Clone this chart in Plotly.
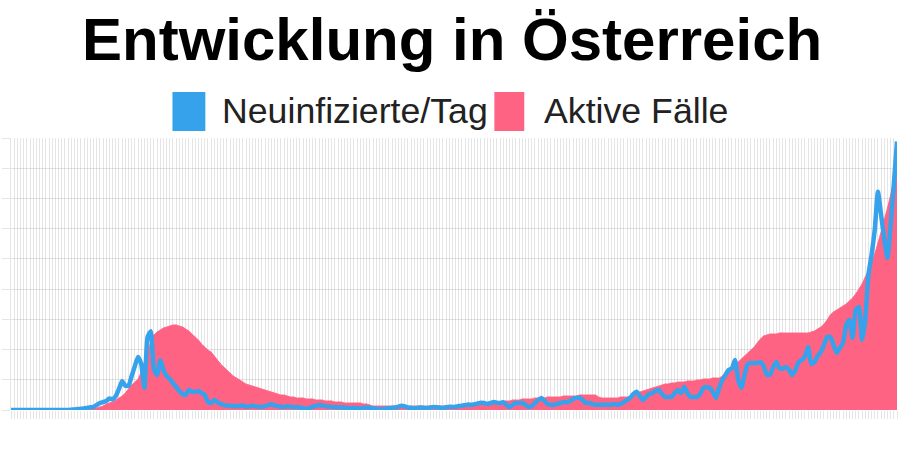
import plotly.graph_objects as go
import pandas as pd

# ---- data ----
dates = list(pd.date_range("2020-02-05", periods=280).strftime("%d.%m.%Y"))

neuinfizierte = [
    0, 0, 0, 0, 0, 0, 0, 0, 0, 0, 0, 0, 0, 0, 0, 0, 0, 0, 0,
    5, 10, 15, 20, 25, 35, 45, 50, 83, 115, 132, 150, 190, 175, 230, 350, 480, 400, 400, 560, 725,
    875, 760, 365, 1200, 1300, 675, 575, 820, 660, 560, 510, 445, 380, 315, 265, 250, 330, 300, 300, 315,
    280, 250, 130, 115, 165, 130, 100, 85,
    70, 75, 60, 70, 65, 75, 55, 60, 70, 60, 55, 50, 65, 80, 95, 75, 60, 55, 50, 60, 55, 45, 50, 40, 30, 15,
    35, 55, 70, 80, 75, 60, 55, 50, 45, 40, 45, 40, 35, 30, 35, 30, 25, 30, 40, 35, 30, 20, 10, 15, 25, 30,
    35, 40, 55, 70, 60, 40, 35, 30, 35, 40, 35, 30, 40, 50, 45, 40, 35, 45, 55, 50, 55, 65, 70, 80, 90, 85,
    95, 110, 120, 115, 100, 115, 130, 120,
    115, 130, 85, 50, 85, 115, 115, 115, 85, 50, 65, 115, 165, 200, 150, 100, 85, 85, 100, 115, 130, 130,
    150, 180, 200, 200, 165, 115, 115, 100, 85, 85, 85, 85, 85, 85, 100, 85, 100, 130, 165, 200, 265,
    300, 230, 165, 215, 265, 280, 315, 330, 265, 215, 215, 215, 280, 330, 280, 380, 280, 215, 215, 215, 265,
    365, 380, 365, 300, 200, 365, 495, 580, 660, 690, 825, 495, 365, 580, 760, 775, 775, 775, 790, 725, 580,
    580, 710, 790, 690, 680, 710, 660, 580, 660, 790, 825, 890, 1040, 760, 790, 890, 955, 1075, 1205, 1205,
    1075, 940, 1025, 1105, 1400, 1490, 1190, 1650, 1700, 1155, 1490, 2230, 2560, 2980, 3600, 3220, 2810,
    2510, 3060, 3720, 4430,
]

aktive_faelle = [
    0, 0, 0, 0, 0, 0, 0, 0, 0, 0, 0, 0, 0, 0, 0, 0, 0, 0, 0,
    5, 10, 15, 20, 30, 40, 60,
    100, 200, 300, 400, 600, 700, 800, 1000, 1200, 1400, 1700, 2100, 2500, 2800, 3100, 3800, 4700, 5700,
    6800, 7500, 7800, 8000, 8200, 8300, 8400, 8500, 8500, 8400, 8300, 8100, 7900, 7600, 7300, 7000, 6600,
    6300, 6000, 5800, 5400, 5000, 4600, 4300, 4000, 3700, 3400, 3200, 3000, 2800, 2600, 2500, 2400, 2300,
    2200, 2100, 2000, 1900, 1800, 1700, 1600, 1500, 1500, 1400, 1300, 1300, 1200, 1200, 1200, 1100, 1100,
    1100, 1000, 1000, 1000, 900, 900, 900, 800, 800, 800, 700, 700, 700, 700, 700, 700, 600, 600, 500,
    400, 400, 400, 400, 400, 400, 400, 400, 400, 400, 400, 400, 400, 400, 400, 400, 400, 400, 400, 400,
    400, 400, 400, 400, 400, 400, 400, 400, 500,
    500, 500, 500, 600, 600, 700, 700, 700, 800, 800, 800, 800, 900, 900, 900, 1000, 1000, 1000, 1100,
    1100, 1100, 1100, 1200, 1200, 1200, 1200, 1300, 1300, 1300, 1300, 1300, 1400, 1400, 1400, 1400, 1400,
    1500, 1500, 1500, 1500, 1500, 1500, 1300, 1200, 1200, 1200, 1200, 1200, 1200, 1300, 1300, 1300, 1400,
    1600, 1700, 1800, 1900, 2000, 2100, 2200, 2300, 2400, 2500, 2600, 2600, 2700, 2700, 2800, 2800, 2800,
    2900, 2900, 2900, 3000, 3000, 3100, 3100, 3100, 3200, 3200, 3200, 3400, 3700, 4000, 4300, 4600, 4800,
    5100, 5400, 5700, 6000, 6300, 6700, 7100, 7400, 7500, 7600, 7600, 7600, 7700, 7700, 7700, 7700, 7700,
    7700, 7700, 7700, 7700, 7700, 7800, 7900, 8100, 8300, 8600, 9000, 9500, 9800, 10000, 10200, 10400,
    10600, 10900, 11200, 11600, 12100, 12600, 13300, 13900, 14700, 15600, 16700, 17800, 19000, 20200,
    21500, 23000, 25000,
]

title_text = "Entwicklung in Österreich"
legend_labels = ["Neuinfizierte/Tag", "Aktive Fälle"]
blue = "#36A2EB"
pink = "#FF6384"

fig = go.Figure()
fig.add_trace(go.Scatter(
    x=dates, y=aktive_faelle, name=legend_labels[1], mode="lines",
    line=dict(color=pink, width=1, shape="spline", smoothing=0.5),
    fill="tozeroy", fillcolor=pink, yaxis="y", showlegend=False,
    hoverinfo="skip",
))
fig.add_trace(go.Scatter(
    x=dates, y=neuinfizierte, name=legend_labels[0], mode="lines",
    line=dict(color=blue, width=4.5, shape="spline", smoothing=0.5),
    yaxis="y2", showlegend=False, hoverinfo="skip",
))

grid = "rgba(0,0,0,0.1)"
L, R, T, B = 8, 3, 138, 40
W, H = 900, 450
pw, ph = W - L - R, H - T - B


def px(x):
    return (x - L) / pw


def py(y):
    return (H - B - y) / ph


fig.update_layout(
    width=W, height=H,
    margin=dict(l=L, r=R, t=T, b=B),
    paper_bgcolor="white", plot_bgcolor="white",
    font=dict(family="Liberation Sans, Arial, sans-serif", color="#222"),
    xaxis=dict(
        type="category", range=[0, len(dates) - 1], dtick=1,
        showgrid=True, gridcolor=grid, gridwidth=1,
        showticklabels=False, ticks="outside", ticklen=8, tickcolor=grid,
        showline=False, zeroline=False, fixedrange=True,
    ),
    yaxis=dict(
        range=[0, 27200], tick0=0, dtick=27200 / 9,
        showgrid=True, gridcolor=grid, gridwidth=1,
        showticklabels=False, ticks="outside", ticklen=8, tickcolor=grid,
        showline=True, linecolor=grid, linewidth=1, zeroline=False,
    ),
    yaxis2=dict(
        range=[0, 4488], overlaying="y", side="right", visible=False,
        showgrid=False, zeroline=False,
    ),
    annotations=[
        dict(text="<b>" + title_text + "</b>", xref="paper", yref="paper",
             x=px(450), y=py(40), xanchor="center", yanchor="middle",
             showarrow=False, font=dict(size=60, color="#000",
                                        family="Liberation Sans, Arial, sans-serif")),
        dict(text=legend_labels[0], xref="paper", yref="paper",
             x=px(218), y=py(111), xanchor="left", yanchor="middle",
             showarrow=False, font=dict(size=35.7, color="#222")),
        dict(text=legend_labels[1], xref="paper", yref="paper",
             x=px(541), y=py(111), xanchor="left", yanchor="middle",
             showarrow=False, font=dict(size=35.7, color="#222")),
    ],
    shapes=[
        dict(type="rect", xref="paper", yref="paper",
             x0=px(170), x1=px(203), y0=py(131), y1=py(92),
             fillcolor=blue, line=dict(width=0)),
        dict(type="rect", xref="paper", yref="paper",
             x0=px(493), x1=px(523), y0=py(131), y1=py(92),
             fillcolor=pink, line=dict(width=0)),
    ],
)

fig.write_html("out.html")
